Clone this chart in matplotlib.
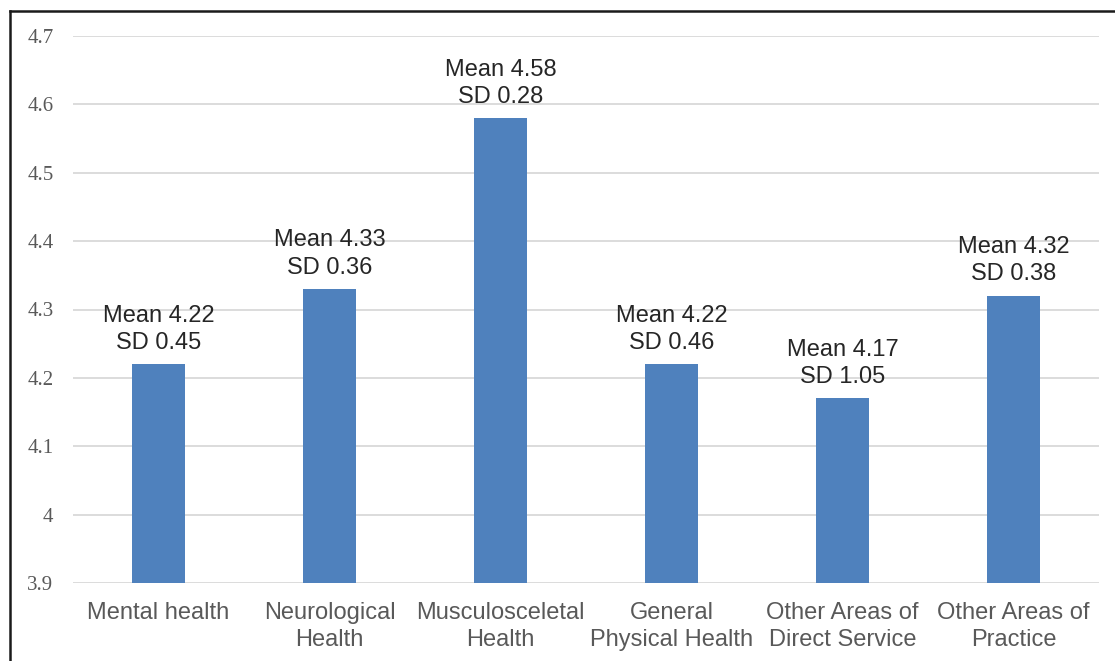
import matplotlib.pyplot as plt
from matplotlib.lines import Line2D

categories = ["Mental health", "Neurological\nHealth", "Musculosceletal\nHealth",
              "General\nPhysical Health", "Other Areas of\nDirect Service",
              "Other Areas of\nPractice"]
means = [4.22, 4.33, 4.58, 4.22, 4.17, 4.32]
sds = [0.45, 0.36, 0.28, 0.46, 1.05, 0.38]
yticks = [3.9, 4.0, 4.1, 4.2, 4.3, 4.4, 4.5, 4.6, 4.7]
ytick_labels = ["3.9", "4", "4.1", "4.2", "4.3", "4.4", "4.5", "4.6", "4.7"]

W, H = 1115, 661
fig = plt.figure(figsize=(W / 100, H / 100), dpi=100)
ax = fig.add_axes([73 / W, 1 - 583 / H, (1099 - 73) / W, (583 - 36) / H])

x = list(range(len(categories)))
ax.bar(x, [m - 3.9 for m in means], bottom=3.9, width=0.315, color="#4f81bd", zorder=3)

for xi, m, s in zip(x, means, sds):
    ax.annotate(f"Mean {m:.2f}\nSD {s:.2f}", (xi, m), xytext=(0, 7.5),
                textcoords="offset points", ha="center", va="bottom",
                fontsize=17, color="#262626", family="Liberation Sans",
                linespacing=1.3)

ax.set_xlim(-0.5, len(categories) - 0.5)
ax.set_ylim(3.9, 4.7)
ax.set_yticks(yticks)
ax.set_yticklabels(ytick_labels, family="Liberation Serif", fontsize=15, color="#595959")
ax.set_xticks(x)
ax.set_xticklabels(categories, family="Liberation Sans", fontsize=17, color="#595959",
                   linespacing=1.25)
ax.tick_params(axis="both", length=0)
ax.tick_params(axis="y", pad=14)
ax.tick_params(axis="x", pad=14)
ax.grid(axis="y", color="#d9d9d9", linewidth=1.3, zorder=0)
for sp in ax.spines.values():
    sp.set_visible(False)

# outer chart frame: only the top and left edges fall inside the picture
fx, fy = 9.5 / W, 1 - 10.5 / H
fig.add_artist(Line2D([fx, 1.0], [fy, fy], transform=fig.transFigure,
                      color="#1a1a1a", linewidth=1.8))
fig.add_artist(Line2D([fx, fx], [0.0, fy], transform=fig.transFigure,
                      color="#1a1a1a", linewidth=1.8))

fig.savefig("out.png", dpi=100)
